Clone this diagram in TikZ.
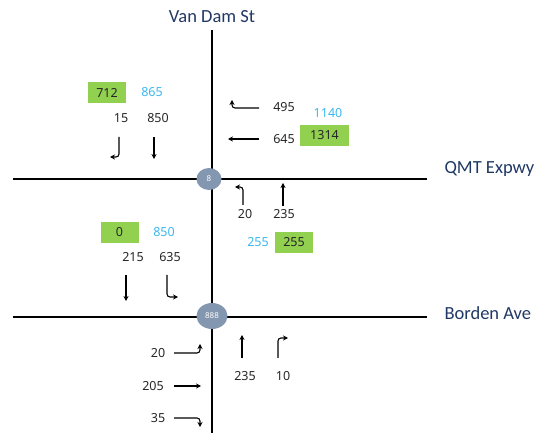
\documentclass[tikz,border=0pt]{standalone}
\usepackage{fontspec}
\setmainfont{Noto Sans}
\newfontfamily\streetfont{Carlito}
\usetikzlibrary{arrows.meta,shapes.geometric}
\definecolor{volgreen}{HTML}{92D050}
\definecolor{volblue}{HTML}{3BB8F0}
\definecolor{streetblue}{HTML}{203864}
\definecolor{nodegray}{HTML}{8497B0}
\definecolor{numgray}{HTML}{262626}
\tikzset{
  street/.style={font=\streetfont\fontsize{18.5}{20}\selectfont, text=streetblue},
  vol/.style={font=\fontsize{12.5}{14}\selectfont, inner sep=0pt, text=numgray},
  total/.style={vol, text=volblue},
  greenbox/.style={vol, fill=volgreen, minimum width=38pt, minimum height=21pt},
  junction/.style={ellipse, fill=nodegray, text=white, font=\fontsize{8}{9}\selectfont, inner sep=0pt},
  road/.style={line width=1.8pt},
  move/.style={line width=1.1pt, rounded corners=3pt, -{Stealth[length=5pt,width=5pt]}},
}
\begin{document}
\begin{tikzpicture}[x=1pt,y=-1pt]
  \useasboundingbox (0,0) rectangle (542,433);
  % roads
  \coordinate (vantop) at (212,30);
  \coordinate (vanbot) at (212,433);
  \coordinate (qmtw) at (13,179);
  \coordinate (qmte) at (427,179);
  \coordinate (borw) at (13,317);
  \coordinate (bore) at (427,317);
  \draw[road] (vantop) -- (vanbot);
  \draw[road] (qmtw) -- (qmte);
  \draw[road] (borw) -- (bore);
  \node[junction, minimum width=25pt, minimum height=22pt] (j8) at (209,179) {8};
  \node[junction, minimum width=31pt, minimum height=26pt] (j888) at (212,316) {888};
  % street names
  \node[street] (van) at (212,17) {Van Dam St};
  \node[street, anchor=west] (qmt) at (441,169) {QMT Expwy};
  \node[street, anchor=west] (bor) at (441,313) {Borden Ave};
  % QMT Expwy, west leg
  \node[greenbox] (qwtot) at (107,92.5) {712};
  \node[total] (qwin) at (152,92) {865};
  \node[vol] (qwl) at (121,118) {15};
  \node[vol] (qwt) at (158,118) {850};
  \draw[move] (119,137) -- (119,157) -- (110,157);
  \draw[move] (154,137) -- (154,159);
  % QMT Expwy, east leg
  \node[vol] (qel) at (284,107) {495};
  \node[vol] (qet) at (284,139) {645};
  \node[total] (qein) at (328,113) {1140};
  \node[greenbox, minimum width=49pt] (qetot) at (324.5,135.5) {1314};
  \draw[move] (259,108) -- (232,108) -- (232,100);
  \draw[move] (259,139) -- (228,139);
  % QMT Expwy, south leg
  \node[vol] (qsl) at (245,214) {20};
  \node[vol] (qst) at (284,214) {235};
  \node[total] (qsin) at (258,242) {255};
  \node[greenbox] (qstot) at (294,242.5) {255};
  \draw[move] (243,205) -- (243,187) -- (235,187);
  \draw[move] (283,206) -- (283,183);
  % Borden Ave, north leg
  \node[greenbox] (bntot) at (119.5,232.5) {0};
  \node[total] (bnin) at (164,232) {850};
  \node[vol] (bnt) at (133,257) {215};
  \node[vol] (bnr) at (170,257) {635};
  \draw[move] (126,275) -- (126,301);
  \draw[move] (167,275) -- (167,297) -- (178,297);
  % Borden Ave, west leg
  \node[vol] (bwl) at (158,353) {20};
  \node[vol] (bwt) at (153,386) {205};
  \node[vol] (bwr) at (158,418) {35};
  \draw[move] (174,353) -- (200,353) -- (200,344);
  \draw[move] (174,386) -- (201,386);
  \draw[move] (174,418) -- (200,418) -- (200,427);
  % Borden Ave, south leg
  \node[vol] (bst) at (245,376) {235};
  \node[vol] (bsr) at (283,376) {10};
  \draw[move] (242,358) -- (242,335);
  \draw[move] (278,358) -- (278,338) -- (288,338);
\end{tikzpicture}
\end{document}
